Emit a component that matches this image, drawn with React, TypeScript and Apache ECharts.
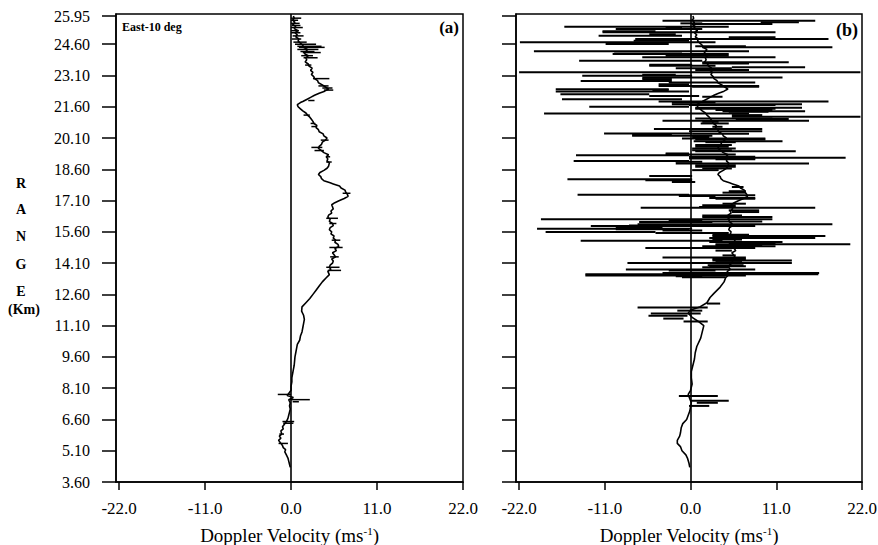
import React, { useEffect, useRef } from "react";
import * as echarts from "echarts";

// Range tick labels (km) and velocity tick labels (m/s)
const yTicks = [3.6, 5.1, 6.6, 8.1, 9.6, 11.1, 12.6, 14.1, 15.6, 17.1, 18.6, 20.1, 21.6, 23.1, 24.6, 25.95];
const xTicks = [-22, -11, 0, 11, 22];

// Panel (a): [range km, doppler velocity m/s]
const profileA: number[][] = [
  [4.3, -0.1], [4.45, -0.2], [4.6, -0.3], [4.75, -0.4], [4.9, -0.6], [5.05, -0.8], [5.15, -0.7], [5.25, -1.0],
  [5.35, -1.1], [5.5, -1.4], [5.6, -1.6], [5.7, -1.3], [5.8, -1.5], [5.9, -1.2], [6.05, -1.3], [6.15, -1.0],
  [6.25, -1.1], [6.35, -0.9], [6.5, -0.6], [6.65, -0.4], [6.8, -0.3], [6.95, -0.2], [7.1, -0.1], [7.25, -0.2],
  [7.4, -0.1], [7.55, -0.3], [7.65, 0.3], [7.75, -0.5], [7.85, -0.3], [8.0, 0.0], [8.2, 0.0], [8.4, 0.1],
  [8.6, 0.1], [8.8, 0.2], [9.0, 0.3], [9.2, 0.4], [9.4, 0.45], [9.6, 0.5], [9.8, 0.6], [10.0, 0.7],
  [10.2, 0.8], [10.4, 1.1], [10.6, 1.2], [10.8, 1.4], [11.0, 1.5], [11.2, 1.6], [11.4, 1.7], [11.6, 1.6],
  [11.8, 1.35], [12.0, 1.4], [12.2, 1.9], [12.4, 2.4], [12.6, 2.8], [12.8, 3.2], [13.0, 3.6], [13.2, 4.0],
  [13.4, 4.5], [13.55, 4.9], [13.7, 4.7], [13.8, 5.1], [13.9, 4.9], [14.0, 5.0], [14.1, 5.3], [14.2, 5.4],
  [14.3, 5.2], [14.4, 5.7], [14.5, 5.5], [14.6, 5.3], [14.7, 5.8], [14.8, 5.6], [14.9, 6.1], [15.0, 6.0],
  [15.1, 5.6], [15.2, 5.7], [15.3, 5.4], [15.4, 5.5], [15.5, 5.1], [15.6, 5.2], [15.7, 4.9], [15.8, 5.0],
  [15.9, 5.4], [16.0, 5.3], [16.1, 4.9], [16.2, 5.0], [16.3, 4.7], [16.4, 4.8], [16.5, 5.2], [16.6, 5.1],
  [16.7, 5.4], [16.8, 5.3], [16.9, 5.2], [17.0, 5.6], [17.1, 6.2], [17.2, 6.8], [17.3, 7.3], [17.4, 7.2],
  [17.5, 7.0], [17.6, 6.9], [17.7, 6.4], [17.8, 6.2], [17.9, 5.4], [17.95, 5.0], [18.05, 4.2], [18.15, 3.9],
  [18.25, 3.8], [18.35, 3.5], [18.45, 3.7], [18.55, 4.2], [18.65, 4.6], [18.75, 4.8], [18.9, 4.9], [19.0, 4.6],
  [19.1, 4.7], [19.2, 4.5], [19.3, 4.8], [19.4, 4.2], [19.5, 3.9], [19.6, 3.5], [19.7, 3.6], [19.8, 3.9],
  [19.9, 4.0], [20.0, 4.4], [20.1, 4.6], [20.2, 4.2], [20.3, 4.1], [20.4, 3.6], [20.5, 3.5], [20.6, 3.2],
  [20.7, 3.3], [20.8, 2.9], [20.9, 2.8], [21.0, 2.6], [21.1, 2.4], [21.2, 2.1], [21.3, 1.9], [21.4, 1.5],
  [21.5, 1.2], [21.6, 0.9], [21.7, 0.8], [21.8, 1.2], [21.85, 1.5], [21.95, 2.0], [22.05, 2.5], [22.15, 3.0],
  [22.25, 3.6], [22.35, 4.3], [22.45, 4.8], [22.55, 4.4], [22.65, 4.0], [22.75, 3.5], [22.85, 3.4], [22.95, 3.0],
  [23.05, 2.9], [23.15, 2.6], [23.25, 2.8], [23.35, 2.5], [23.45, 2.7], [23.55, 2.3], [23.65, 2.2], [23.75, 1.8],
  [23.85, 2.0], [23.95, 1.9], [24.05, 2.2], [24.15, 1.7], [24.25, 1.9], [24.35, 2.1], [24.45, 1.6], [24.55, 1.5],
  [24.65, 1.2], [24.75, 0.9], [24.85, 1.0], [24.95, 0.6], [25.05, 0.8], [25.15, 0.5], [25.25, 0.9], [25.35, 0.4],
  [25.45, 0.6], [25.55, 0.2], [25.65, 0.5], [25.75, 0.2], [25.85, 0.4], [25.95, 0.3],
];

// Panel (a) error bars: [range, low, high]
const errA: number[][] = [
  [25.85, 0.0, 1.3], [25.75, 0.0, 0.9], [25.6, 0.0, 1.1], [25.5, 0.1, 1.2], [25.4, 0.0, 1.5], [25.25, 0.0, 1.0],
  [25.15, 0.0, 1.2], [25.0, 0.2, 1.6], [24.85, 0.1, 1.3], [24.7, 0.3, 2.0], [24.6, 0.5, 3.2], [24.5, 0.8, 3.9],
  [24.45, 1.0, 4.3], [24.35, 0.8, 3.5], [24.25, 1.2, 3.0], [24.2, 1.5, 3.8], [24.05, 1.3, 2.8], [23.95, 1.6, 3.4],
  [23.6, 1.8, 2.6], [22.95, 2.8, 4.9], [22.6, 3.5, 4.8], [22.5, 4.0, 5.3], [22.4, 4.2, 5.4], [21.9, 2.2, 3.0],
  [21.2, 1.6, 2.4], [20.8, 2.5, 3.1], [20.65, 2.6, 3.2], [20.0, 3.8, 4.8], [19.65, 2.6, 4.0], [19.5, 3.0, 4.2],
  [19.2, 4.5, 5.0], [18.95, 4.5, 5.2], [17.45, 6.6, 7.6], [16.25, 4.5, 6.0], [16.0, 4.9, 5.8], [15.2, 5.2, 6.3],
  [14.85, 4.9, 6.6], [14.4, 5.0, 6.1], [13.9, 4.5, 6.2], [13.75, 4.7, 6.4],
  [7.8, -1.7, 0.0], [7.55, -0.2, 2.4], [7.45, 0.2, 1.0], [6.5, -1.1, 0.4], [6.42, -1.0, 0.3], [5.9, -1.5, -0.9],
  [5.45, -1.6, -0.4],
];

// Panel (b) lower profile [range, velocity]; upper part follows panel (a)
const profileBLow: number[][] = [
  [4.3, -0.1], [4.5, -0.2], [4.75, -0.4], [4.9, -0.6], [5.1, -1.1], [5.3, -1.3], [5.45, -1.7], [5.6, -1.7],
  [5.8, -1.4], [5.95, -1.3], [6.2, -1.2], [6.4, -1.0], [6.6, -0.5], [6.8, -0.3], [7.0, -0.1], [7.2, 0.0],
  [7.4, 0.1], [7.6, -0.1], [7.8, -0.3], [8.0, 0.0], [8.3, 0.2], [8.6, 0.1], [8.9, 0.1], [9.2, 0.3],
  [9.5, 0.5], [9.8, 0.6], [10.1, 0.8], [10.5, 1.3], [10.8, 1.5], [11.1, 1.7], [11.3, 1.0], [11.5, 0.2],
  [11.7, -0.3], [11.85, 0.0], [12.0, 1.2], [12.2, 2.1], [12.45, 2.5], [12.65, 3.0], [12.95, 3.8], [13.2, 4.3],
];
const profileB = [...profileBLow, ...profileA.filter((p) => p[0] > 13.3)];

// Panel (b) spread segments: [range, low, high]
const errB: number[][] = [
  [25.73, -3.6, 16.0], [25.65, 9.0, 13.9], [25.6, -1.3, 1.5], [25.57, 0.2, 10.5], [25.44, -16.2, 4.9],
  [25.4, -3.2, -1.1], [25.33, -9.6, 1.5], [25.22, -11.3, -4.5], [25.17, -11.3, 10.9], [25.08, -5.3, -1.9],
  [25.01, -11.8, -1.1], [24.93, 4.9, 10.9], [24.85, -7.1, 17.7], [24.77, -7.3, -0.2], [24.69, -21.9, 3.2],
  [24.61, -10.9, -2.8], [24.5, 0.6, 7.1], [24.45, 1.5, 18.2], [24.26, -20.1, 7.5], [24.16, -9.8, -1.1],
  [24.13, -10.0, 4.9], [24.05, -3.2, 4.9], [23.97, -6.2, 10.9], [23.81, -14.3, 1.5], [23.73, 1.5, 12.6],
  [23.68, 1.5, 7.5], [23.61, -5.3, 0.2], [23.57, -5.3, 3.2], [23.49, 5.3, 14.7], [23.45, -1.9, 5.3],
  [23.36, 0.6, 7.5], [23.25, -22.0, 21.8], [23.13, -6.2, -1.9], [23.09, -13.9, 0.2], [23.0, -6.2, 11.8],
  [22.93, -6.2, -2.4], [22.84, -14.1, -2.4], [22.76, -2.8, 8.3], [22.68, -4.1, -0.2], [22.6, -4.1, 8.8],
  [22.56, 0.2, 8.8], [22.44, -17.3, -2.8], [22.4, -4.9, -2.8], [22.33, -17.3, -0.2], [22.2, -16.7, -5.3],
  [22.12, -5.3, 1.1], [22.08, 1.5, 4.1], [21.96, -16.5, -1.1], [21.85, -4.1, 17.7], [21.8, -2.4, 3.2],
  [21.72, -2.4, 14.3], [21.68, -0.2, 10.9], [21.6, -13.0, -0.2], [21.55, 0.6, 14.3], [21.51, 0.6, 10.9],
  [21.44, 3.2, 10.5], [21.39, 4.1, 14.7], [21.36, 4.9, 10.0], [21.28, -18.8, 7.5], [21.2, 5.3, 9.2],
  [21.12, 5.3, 21.8], [21.04, 0.6, 10.5], [21.01, 5.8, 12.6], [20.93, -3.6, 15.2], [20.88, 1.5, 3.6],
  [20.8, 1.3, 4.9], [20.64, 2.8, 4.1], [20.53, -4.7, 9.2], [20.43, -0.2, 9.2], [20.32, -11.1, 0.2],
  [20.3, 0.2, 7.5], [20.27, -7.5, -2.4], [20.21, -7.5, 2.8], [20.15, 0.2, 2.4], [20.08, -1.1, 9.6],
  [20.03, 0.6, 9.6], [19.95, 0.4, 11.8], [19.9, 1.9, 5.8], [19.76, 0.6, 5.3], [19.68, 0.6, 4.9],
  [19.6, 0.2, 5.8], [19.52, 0.2, 5.3], [19.47, 0.6, 13.5], [19.36, -3.2, -0.2], [19.31, -3.2, 5.8],
  [19.28, -14.7, -0.2], [19.2, -0.2, 8.3], [19.15, -0.2, 19.9], [19.12, -0.2, 8.3], [19.08, 3.2, 8.3],
  [19.0, -15.0, -0.2], [18.96, -1.9, 1.5], [18.88, -1.9, 15.2], [18.8, 0.6, 5.8], [18.72, 0.6, 5.8],
  [18.64, 1.5, 5.3], [18.56, 0.2, 3.6], [18.28, -5.3, 0.2], [18.12, -15.8, 0.2], [18.07, -5.8, 0.2],
  [17.99, -2.4, 0.6], [17.75, 5.3, 6.8], [17.55, 4.9, 7.1], [17.48, 4.1, 7.1], [17.38, -14.5, -0.2],
  [17.35, -1.5, 8.3], [17.32, -1.5, 3.2], [17.22, 2.4, 8.3], [17.19, 3.2, 8.3], [16.95, 4.1, 7.1],
  [16.87, 1.5, 5.8], [16.79, 1.1, 5.8], [16.76, -6.4, 16.0], [16.63, 4.9, 8.8], [16.55, 5.3, 8.8],
  [16.39, 1.5, 6.6], [16.31, 1.5, 10.5], [16.2, -19.2, 10.5], [16.15, -2.8, 1.5], [16.1, -2.8, 9.2],
  [16.07, -6.6, 2.8], [15.97, -6.8, 18.2], [15.91, -7.9, -1.9], [15.88, -12.8, 8.3], [15.78, -9.6, -3.6],
  [15.75, -19.7, 0.2], [15.73, -9.6, -0.2], [15.67, -3.6, 1.5], [15.59, -18.6, -4.5], [15.55, -4.5, 4.9],
  [15.46, 2.8, 7.5], [15.4, 2.8, 17.3], [15.35, 4.9, 11.3], [15.3, 2.4, 16.0], [15.23, 2.8, 6.6],
  [15.17, -14.1, 4.1], [15.11, 2.4, 11.8], [15.07, 4.9, 10.9], [15.0, 3.2, 20.5], [14.95, 3.2, 9.2],
  [14.91, 1.5, 10.9], [14.82, -5.8, 8.3], [14.7, 3.2, 5.3], [14.47, 4.1, 5.8], [14.37, -3.6, 7.1],
  [14.3, 2.8, 7.1], [14.23, 2.8, 13.0], [14.15, 3.2, 6.6], [14.1, -8.1, 13.0], [14.0, 2.2, 6.8],
  [13.95, 2.4, 7.1], [13.9, 1.5, 4.9], [13.79, -8.3, 8.3], [13.74, -2.8, 3.2], [13.63, -3.6, 16.5],
  [13.58, -1.1, 7.1], [13.56, -13.5, 16.4], [13.5, -13.5, 7.1], [13.47, -1.9, 1.5], [13.42, -1.1, 4.5],
  [12.16, 2.1, 3.8], [11.97, -6.8, 2.2], [11.82, -1.7, 1.5], [11.68, -5.1, 1.3], [11.58, -5.4, -0.4],
  [11.44, -3.5, -0.9], [11.3, -0.9, 2.2], [7.73, -1.5, 3.5], [7.5, 0.0, 4.9], [7.4, 0.8, 3.5],
  [7.25, -0.2, 2.4],
];

const SERIF = "Liberation Serif";

export default function App() {
  const ref = useRef<HTMLDivElement>(null);
  useEffect(() => {
    const chart = echarts.init(ref.current!, null, { renderer: "svg" });
    const black = "#000";
    const mkX = (gi: number) => ({
      gridIndex: gi,
      type: "value",
      min: -22.4,
      max: 22,
      axisLine: { show: true, onZero: false, lineStyle: { color: black, width: 1.5 } },
      axisTick: { show: true, inside: false, length: 8, customValues: xTicks, lineStyle: { color: black, width: 1.5 } },
      axisLabel: { show: false },
      splitLine: { show: false },
    });
    const mkY = (gi: number) => ({
      gridIndex: gi,
      type: "value",
      min: 3.6,
      max: 26.05,
      axisLine: { show: true, onZero: false, lineStyle: { color: black, width: 1.5 } },
      axisTick: { show: true, inside: false, length: 14, customValues: yTicks, lineStyle: { color: black, width: 1.5 } },
      axisLabel: { show: false },
      splitLine: { show: false },
    });
    const zeroLine = {
      silent: true,
      symbol: ["none", "none"],
      label: { show: false },
      lineStyle: { color: black, type: "solid", width: 1.6 },
      data: [{ xAxis: 0 }],
    };
    const segRender = (width: number) => (params: any, api: any) => {
      const r = api.value(0);
      const p1 = api.coord([api.value(1), r]);
      const p2 = api.coord([api.value(2), r]);
      return {
        type: "line",
        shape: { x1: p1[0], y1: p1[1], x2: p2[0], y2: p2[1] },
        style: { stroke: black, lineWidth: width },
      };
    };
    chart.setOption({
      animation: false,
      backgroundColor: "#fff",
      grid: [
        { left: 116, top: 14, width: 347, height: 468, show: true, borderColor: black, borderWidth: 1.5 },
        { left: 516, top: 14, width: 346, height: 468, show: true, borderColor: black, borderWidth: 1.5 },
      ],
      xAxis: [mkX(0), mkX(1)],
      yAxis: [mkY(0), mkY(1)],
      series: [
        {
          type: "line",
          xAxisIndex: 0,
          yAxisIndex: 0,
          data: profileA.map((p) => [p[1], p[0]]),
          symbol: "none",
          lineStyle: { color: black, width: 1.6 },
          markLine: zeroLine,
        },
        {
          type: "custom",
          xAxisIndex: 0,
          yAxisIndex: 0,
          data: errA,
          encode: { x: [1, 2], y: 0 },
          renderItem: segRender(1.5),
        },
        {
          type: "line",
          xAxisIndex: 1,
          yAxisIndex: 1,
          data: profileB.map((p) => [p[1], p[0]]),
          symbol: "none",
          lineStyle: { color: black, width: 1.6 },
          markLine: zeroLine,
        },
        {
          type: "custom",
          xAxisIndex: 1,
          yAxisIndex: 1,
          data: errB,
          encode: { x: [1, 2], y: 0 },
          renderItem: segRender(2),
        },
      ],
    });

    // Tick labels and titles placed from the axes' own scales
    const txt = (text: string, x: number, y: number, size: number, align: string, bold = false, extra: any = {}) => ({
      type: "text",
      x,
      y,
      silent: true,
      style: {
        text,
        fontFamily: SERIF,
        fontWeight: bold ? "bold" : "normal",
        fontSize: size,
        fill: black,
        align,
        verticalAlign: "middle",
        ...extra,
      },
    });
    const g: any[] = [];
    yTicks.forEach((v) => {
      const py = chart.convertToPixel({ yAxisIndex: 0 }, v) as number;
      g.push(txt(v.toFixed(2), 90, py, 16, "right"));
    });
    [0, 1].forEach((ai) => {
      xTicks.forEach((v) => {
        const px = chart.convertToPixel({ xAxisIndex: ai }, v) as number;
        g.push(txt(v.toFixed(1), px, 508, 17, "center"));
      });
      const cx = ((chart.convertToPixel({ xAxisIndex: ai }, -22.4) as number) + (chart.convertToPixel({ xAxisIndex: ai }, 22) as number)) / 2;
      g.push(
        txt("Doppler Velocity (ms{sup|-1})", cx, 535, 19, "center", false, {
          rich: { sup: { fontFamily: SERIF, fontSize: 11, fill: black, verticalAlign: "top", padding: [0, 0, 8, 0] } },
        })
      );
    });
    ["R", "A", "N", "G", "E"].forEach((t, i) => {
      g.push(txt(t, 21, [183, 209, 236, 264, 291][i], 14, "center", true));
    });
    g.push(txt("(Km)", 24, 309, 14, "center", true));
    g.push(txt("East-10 deg", 122, 27, 12, "left", true));
    g.push(txt("(a)", 459, 27, 17, "right", true));
    g.push(txt("(b)", 858, 30, 18, "right", true));
    chart.setOption({ graphic: g });

    return () => chart.dispose();
  }, []);
  return <div ref={ref} style={{ position: "fixed", left: 0, top: 0, width: 878, height: 545 }} />;
}
